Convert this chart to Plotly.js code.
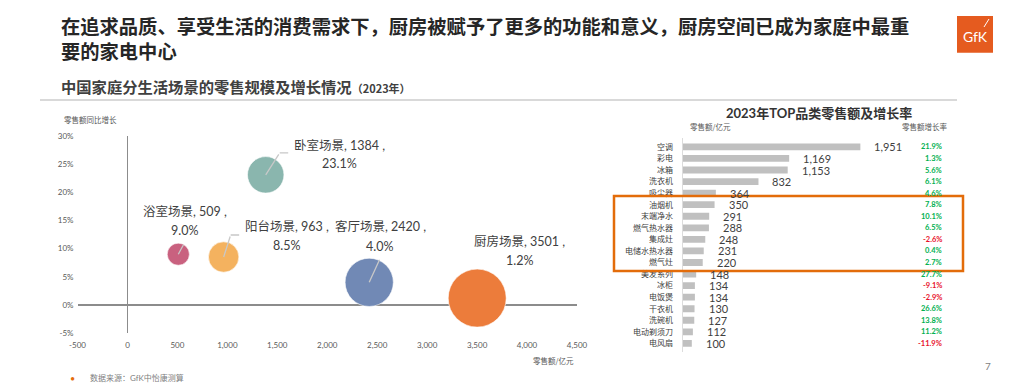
<!DOCTYPE html>
<html><head><meta charset="utf-8">
<script src="https://cdn.plot.ly/plotly-3.0.1.min.js"></script>
<style>html,body{margin:0;padding:0;background:#fff;}#chart{width:1024px;height:388px;}</style>
</head><body><div id="chart"></div>
<script>
// ---- Bubble chart data (2023 scene retail size & growth) ----
const scenes = ['浴室场景', '阳台场景', '卧室场景', '客厅场景', '厨房场景'];
const sceneSales = [509, 963, 1384, 2420, 3501];      // 亿元
const sceneGrowth = [9.0, 8.5, 23.1, 4.0, 1.2];       // %
const xTickVals = [-500, 0, 500, 1000, 1500, 2000, 2500, 3000, 3500, 4000, 4500];
const xTickText = ['-500', '0', '500', '1,000', '1,500', '2,000', '2,500', '3,000', '3,500', '4,000', '4,500'];
const yTickVals = [-5, 0, 5, 10, 15, 20, 25, 30];
const yTickText = ['-5%', '0%', '5%', '10%', '15%', '20%', '25%', '30%'];

// ---- TOP categories ----
const categories = ['空调', '彩电', '冰箱', '洗衣机', '吸尘器', '油烟机', '末端净水', '燃气热水器', '集成灶', '电储水热水器', '燃气灶', '美发系列', '冰柜', '电饭煲', '干衣机', '洗碗机', '电动剃须刀', '电风扇'];
const catSales = [1951, 1169, 1153, 832, 364, 350, 291, 288, 248, 231, 220, 148, 134, 134, 130, 127, 112, 100];
const catGrowth = [21.9, 1.3, 5.6, 6.1, 4.6, 7.8, 10.1, 6.5, -2.6, 0.4, 2.7, 27.7, -9.1, -2.9, 26.6, 13.8, 11.2, -11.9];

// ---- styles ----
const sceneColors = ['#c9617f', '#f4b25f', '#8ab6ae', '#7189b5', '#ec7c3b'];
const FONT = 'Lato, "Noto Sans CJK SC", sans-serif';
const CJK = '"Noto Sans CJK SC", sans-serif';
const W = 1024, H = 388;
const px = v => v / W, py = v => 1 - v / H;

// label offsets (pixels from bubble centre)
const labelLayout = {
  '浴室场景': {l1: [7, -43], l2: [6, -24], lead: [[6, -11]]},
  '阳台场景': {l1: [63, -31], l2: [63, -12], lead: [[7, -22], [17, -22]]},
  '卧室场景': {l1: [74, -29], l2: [74, -11], lead: [[14, -22], [24, -22]]},
  '客厅场景': {l1: [11, -56], l2: [10, -36], lead: [[11, -24]]},
  '厨房场景': {l1: [42, -57], l2: [42, -38], lead: []}
};

const traces = [
  {
    type: 'scatter', mode: 'markers', x: sceneSales, y: sceneGrowth, xaxis: 'x', yaxis: 'y',
    marker: {size: sceneSales, sizemode: 'area', sizeref: 2.08, color: sceneColors,
             line: {width: 1, color: 'rgba(255,255,255,0.6)'}, opacity: 1},
    hoverinfo: 'skip', showlegend: false
  },
  {
    type: 'bar', orientation: 'h', x: catSales, y: categories, xaxis: 'x2', yaxis: 'y2',
    marker: {color: '#c0c0c0'}, hoverinfo: 'skip', showlegend: false
  }
];

const ann = [];
const shapes = [];
function paperText(x, y, text, font, xanchor, align) {
  ann.push({xref: 'paper', yref: 'paper', x: px(x), y: py(y), xanchor: xanchor || 'center', yanchor: 'middle',
    align: align || 'center', showarrow: false, text: text, font: font});
}

// Titles
paperText(59, 38.5, '在追求品质、享受生活的消费需求下，厨房被赋予了更多的功能和意义，厨房空间已成为家庭中最重<br>要的家电中心',
  {family: CJK, size: 19.3, color: '#262626', weight: 'bold'}, 'left', 'left');
paperText(59, 86, '中国家庭分生活场景的零售规模及增长情况<span style="font-size:11px">（2023年）</span>',
  {family: CJK, size: 15.3, color: '#404040', weight: 'bold'}, 'left');
shapes.push({type: 'line', xref: 'paper', yref: 'paper', x0: px(40), x1: px(957), y0: py(100), y1: py(100),
  line: {color: '#d9d9d9', width: 2}});

// GfK logo
shapes.push({type: 'rect', xref: 'paper', yref: 'paper', x0: px(957), x1: px(993), y0: py(52.7), y1: py(16),
  fillcolor: '#e55b1f', line: {width: 0}});
shapes.push({type: 'line', xref: 'paper', yref: 'paper', x0: px(984), x1: px(989), y0: py(27), y1: py(19),
  line: {color: '#ffffff', width: 1}});
paperText(975, 36, 'GfK', {family: 'Lato, sans-serif', size: 14, color: '#ffffff'});

// Axis titles / footnote / page number
paperText(62, 119, '零售额同比增长', {family: CJK, size: 7.5, color: '#595959'}, 'left');
paperText(576, 360, '零售额/亿元', {family: CJK, size: 7.5, color: '#595959'}, 'right');
paperText(72, 378, '•', {family: FONT, size: 9, color: '#e46c0a'});
paperText(88, 378, '数据来源：GfK中怡康测算', {family: FONT, size: 8, color: '#7f7f7f'}, 'left');
paperText(988, 366, '7', {family: FONT, size: 10, color: '#7f7f7f'});

// Bubble labels + leader lines
scenes.forEach((s, i) => {
  const L = labelLayout[s];
  const base = {xref: 'x', yref: 'y', x: sceneSales[i], y: sceneGrowth[i]};
  ann.push(Object.assign({}, base, {showarrow: false, xanchor: 'center', yanchor: 'middle',
    xshift: L.l1[0], yshift: -L.l1[1],
    text: s + ', ' + sceneSales[i] + ' ,', font: {family: FONT, size: 12.5, color: '#404040'}}));
  ann.push(Object.assign({}, base, {showarrow: false, xanchor: 'center', yanchor: 'middle',
    xshift: L.l2[0], yshift: -L.l2[1],
    text: sceneGrowth[i].toFixed(1) + '%', font: {family: FONT, size: 12.5, color: '#404040'}}));
  let prev = [0, 0];
  L.lead.forEach(pt => {
    ann.push(Object.assign({}, base, {text: '', showarrow: true, arrowhead: 0, arrowwidth: 1.3,
      arrowcolor: '#c8c8c8', standoff: 0, startstandoff: 0,
      xshift: prev[0], yshift: -prev[1], ax: pt[0] - prev[0], ay: pt[1] - prev[1]}));
    prev = pt;
  });
});

// Right panel: title & headers
paperText(819, 113, '2023年TOP品类零售额及增长率', {family: FONT, size: 13, color: '#333333', weight: 'bold'});
paperText(688, 127, '零售额/亿元', {family: CJK, size: 7.5, color: '#595959'}, 'left');
paperText(950, 127, '零售额增长率', {family: CJK, size: 7.5, color: '#595959'}, 'right');

// values and growth rates
categories.forEach((c, i) => {
  ann.push({xref: 'x2', yref: 'y2', x: catSales[i], y: c, xanchor: 'left', yanchor: 'middle', xshift: 12,
    showarrow: false, text: catSales[i].toLocaleString('en-US'),
    font: {family: FONT, size: 11, color: '#404040'}});
  ann.push({xref: 'paper', yref: 'y2', x: px(944), y: c, xanchor: 'right', yanchor: 'middle', showarrow: false,
    text: catGrowth[i].toFixed(1) + '%',
    font: {family: FONT, size: 7.5, color: catGrowth[i] < 0 ? '#e8102a' : '#00b050', weight: 'bold'}});
});

// highlight box (kitchen categories)
shapes.push({type: 'rect', xref: 'paper', yref: 'paper', x0: px(614), x1: px(963), y0: py(271), y1: py(196),
  line: {color: '#e36c0a', width: 2.5}, fillcolor: 'rgba(0,0,0,0)'});

const layout = {
  width: W, height: H, autosize: false,
  margin: {l: 0, r: 0, t: 0, b: 0, pad: 0},
  paper_bgcolor: '#ffffff', plot_bgcolor: 'rgba(0,0,0,0)',
  showlegend: false, bargap: 0.41,
  font: {family: FONT, color: '#404040'},
  xaxis: {domain: [px(77.5), px(577)], range: [-500, 4500], tickvals: xTickVals, ticktext: xTickText,
    tickfont: {family: FONT, size: 8, color: '#595959'}, showgrid: false, showline: false, ticks: '',
    zeroline: true, zerolinecolor: '#8c8c8c', zerolinewidth: 1.5, anchor: 'y', automargin: false,
    ticklabelstandoff: 6, fixedrange: true},
  yaxis: {domain: [1 - 333 / H, 1 - 136 / H], range: [-5, 30], tickvals: yTickVals, ticktext: yTickText,
    tickfont: {family: FONT, size: 8, color: '#595959'}, showgrid: false, showline: false, ticks: '',
    zeroline: true, zerolinecolor: '#8c8c8c', zerolinewidth: 1.5, anchor: 'x', automargin: false,
    ticklabelstandoff: 3, fixedrange: true},
  xaxis2: {domain: [px(682.7), px(960)], range: [0, 3045], anchor: 'y2', showgrid: false, zeroline: false,
    showticklabels: false, showline: false, ticks: '', automargin: false, fixedrange: true},
  yaxis2: {domain: [1 - 351.9 / H, 1 - 138.4 / H], type: 'category', categoryorder: 'array',
    categoryarray: categories, autorange: 'reversed', anchor: 'x2', showgrid: false, zeroline: false,
    showline: true, linecolor: '#dcdcdc', linewidth: 1, ticks: '', ticklabelstandoff: 7,
    tickfont: {family: CJK, size: 8, color: '#404040'}, automargin: false, fixedrange: true},
  annotations: ann,
  shapes: shapes
};

Plotly.newPlot('chart', traces, layout, {staticPlot: true, displayModeBar: false});
</script>
</body></html>
